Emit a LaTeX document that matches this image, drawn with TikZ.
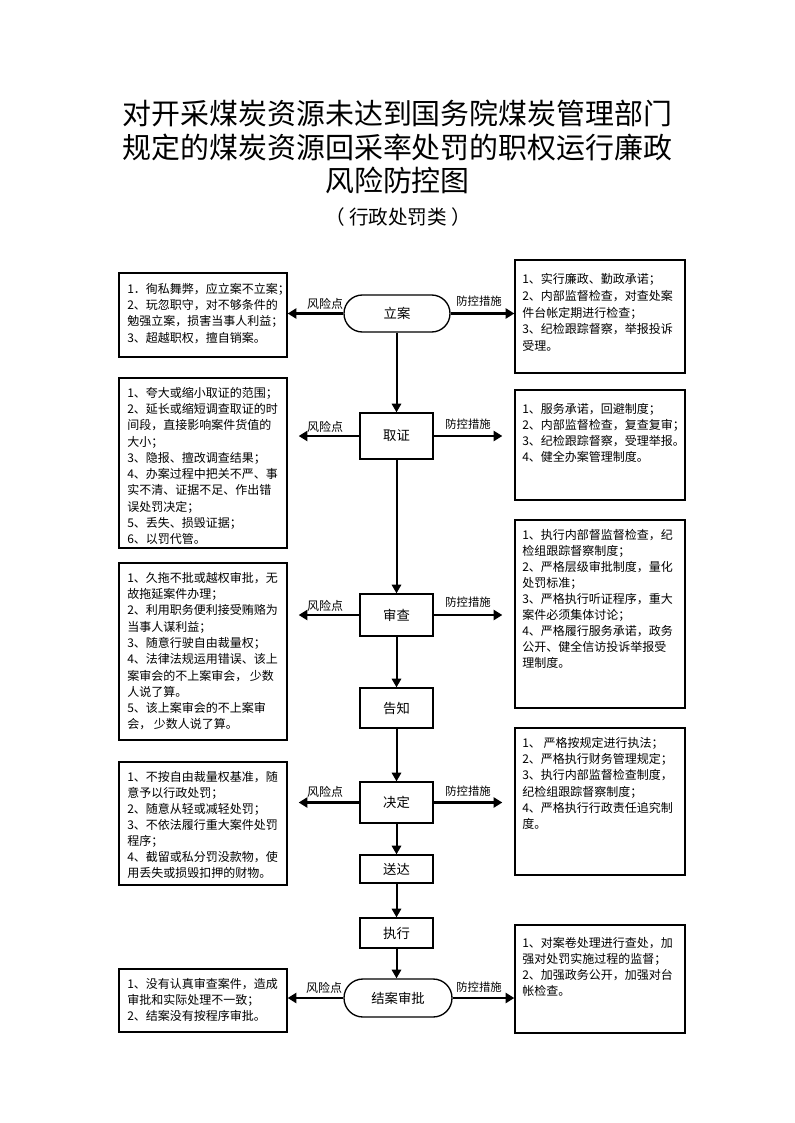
\documentclass[tikz,border=0pt]{standalone}
\usepackage{fontspec}
\newfontfamily\cjk{Noto Sans CJK SC}
\usetikzlibrary{arrows.meta,calc}
\begin{document}
\begin{tikzpicture}[x=0.75pt,y=-0.75pt,
  box/.style={draw, line width=1pt, inner sep=0pt},
  cbox/.style={draw, line width=1pt, inner sep=0pt, font=\cjk\fontsize{10pt}{12pt}\selectfont},
  txt/.style={font=\cjk\fontsize{9pt}{#1}\selectfont, align=left, inner sep=0pt, anchor=north west},
  lbl/.style={font=\cjk\fontsize{9pt}{11pt}\selectfont, inner sep=0pt},
  lbltwo/.style={font=\cjk\fontsize{8.5pt}{11pt}\selectfont, inner sep=0pt},
  titl/.style={font=\cjk\fontsize{21.7pt}{26pt}\selectfont, inner sep=0pt},
  harrow/.style={line width=2.2pt, -{Triangle[length=6.5pt,width=7.5pt]}},
  varrow/.style={line width=1.5pt, -{Triangle[length=6.5pt,width=7pt]}}]
\fill[white] (0,0) rectangle (794,1123);
\useasboundingbox (0,0) rectangle (794,1123);

% title
\node[titl] (ti1) at (397.5,113) {对开采煤炭资源未达到国务院煤炭管理部门};
\node[titl] (ti2) at (397.5,147) {规定的煤炭资源回采率处罚的职权运行廉政};
\node[titl] (ti3) at (397.5,180) {风险防控图};
\node[font=\cjk\fontsize{14.7pt}{16pt}\selectfont, inner sep=0pt] (ti4) at (398,217) {（ 行政处罚类 ）};

% left boxes
\node[box, minimum width=126pt, minimum height=63pt] (L1) at (203,315) {};
\node[box, minimum width=126pt, minimum height=127.5pt] (L2) at (203,463) {};
\node[box, minimum width=126pt, minimum height=132.75pt] (L3) at (203,651.5) {};
\node[box, minimum width=126pt, minimum height=92.25pt] (L4) at (203,823.5) {};
\node[box, minimum width=126pt, minimum height=47.25pt] (L5) at (203,1000.5) {};
% right boxes
\node[box, minimum width=127.5pt, minimum height=84.75pt] (R1) at (600,316.5) {};
\node[box, minimum width=127.5pt, minimum height=82.5pt] (R2) at (600,445) {};
\node[box, minimum width=127.5pt, minimum height=141pt] (R3) at (600,614) {};
\node[box, minimum width=127.5pt, minimum height=110.25pt] (R4) at (600,801.5) {};
\node[box, minimum width=127.5pt, minimum height=81pt] (R5) at (600,979) {};

% texts
\node[txt={12.2pt}] (L1t) at (127,283) {1．徇私舞弊，应立案不立案；\\2、玩忽职守，对不够条件的\\勉强立案，损害当事人利益；\\3、超越职权，擅自销案。};
\node[txt={12.6pt}] (R1t) at (522,273) {1、实行廉政、勤政承诺；\\2、内部监督检查，对查处案\\件台帐定期进行检查；\\3、纪检跟踪督察，举报投诉\\受理。};
\node[txt={12.2pt}] (L2t) at (127,387) {1、夸大或缩小取证的范围；\\2、延长或缩短调查取证的时\\间段，直接影响案件货值的\\大小；\\3、隐报、擅改调查结果；\\4、办案过程中把关不严、事\\实不清、证据不足、作出错\\误处罚决定；\\5、丢失、损毁证据；\\6、以罚代管。};
\node[txt={12pt}] (R2t) at (522,403) {1、服务承诺，回避制度；\\2、内部监督检查，复查复审；\\3、纪检跟踪督察，受理举报。\\4、健全办案管理制度。};
\node[txt={12.2pt}] (L3t) at (127,572) {1、久拖不批或越权审批，无\\故拖延案件办理；\\2、利用职务便利接受贿赂为\\当事人谋利益；\\3、随意行驶自由裁量权；\\4、法律法规运用错误、该上\\案审会的不上案审会， 少数\\人说了算。\\5、该上案审会的不上案审\\会， 少数人说了算。};
\node[txt={12pt}] (R3t) at (522,529) {1、执行内部督监督检查，纪\\检组跟踪督察制度；\\2、严格层级审批制度，量化\\处罚标准；\\3、严格执行听证程序，重大\\案件必须集体讨论；\\4、严格履行服务承诺，政务\\公开、健全信访投诉举报受\\理制度。};
\node[txt={12pt}] (L4t) at (127,771) {1、不按自由裁量权基准，随\\意予以行政处罚；\\2、随意从轻或减轻处罚；\\3、不依法履行重大案件处罚\\程序；\\4、截留或私分罚没款物，使\\用丢失或损毁扣押的财物。};
\node[txt={12.15pt}] (R4t) at (522,737) {1、 严格按规定进行执法；\\2、严格执行财务管理规定；\\3、执行内部监督检查制度，\\纪检组跟踪督察制度；\\4、严格执行行政责任追究制\\度。};
\node[txt={12pt}] (L5t) at (127,978) {1、没有认真审查案件，造成\\审批和实际处理不一致；\\2、结案没有按程序审批。};
\node[txt={12pt}] (R5t) at (522,937) {1、对案卷处理进行查处，加\\强对处罚实施过程的监督；\\2、加强政务公开，加强对台\\帐检查。};

% centre column
\node[cbox, rounded corners=13.8pt, minimum width=79.5pt, minimum height=27.75pt] (la) at (397,313.5) {立案};
\node[cbox, minimum width=54.75pt, minimum height=34.5pt] (qz) at (396.5,436) {取证};
\node[cbox, minimum width=54.75pt, minimum height=31.5pt] (sc) at (396.5,615) {审查};
\node[cbox, minimum width=54.75pt, minimum height=30pt] (gz) at (396.5,708) {告知};
\node[cbox, minimum width=54.75pt, minimum height=30.75pt] (jd) at (396.5,802.5) {决定};
\node[cbox, minimum width=54.75pt, minimum height=21pt] (sd) at (396.5,869) {送达};
\node[cbox, minimum width=54.75pt, minimum height=22.5pt] (zx) at (396.5,933) {执行};
\node[cbox, rounded corners=14.2pt, minimum width=81pt, minimum height=28.5pt] (ja) at (398,998) {结案审批};

% vertical arrows
\draw[varrow] (la.south -| qz.south) -- (qz.north);
\draw[varrow] (qz.south) -- (sc.north);
\draw[varrow] (sc.south) -- (gz.north);
\draw[varrow] (gz.south) -- (jd.north);
\draw[varrow] (jd.south) -- (sd.north);
\draw[varrow] (sd.south) -- (zx.north);
\draw[varrow] (zx.south) -- (zx.south |- ja.north);

% horizontal arrows
\draw[harrow] (la.west) -- (la.west -| L1.east);
\draw[harrow] (la.east) -- (la.east -| R1.west);
\draw[harrow] (qz.west) -- ($(qz.west -| L2.east)+(11,0)$);
\draw[harrow] (qz.east) -- ($(qz.east -| R2.west)+(-12,0)$);
\draw[harrow] (sc.west) -- ($(sc.west -| L3.east)+(11,0)$);
\draw[harrow] (sc.east) -- ($(sc.east -| R3.west)+(-12,0)$);
\draw[harrow] (jd.west) -- ($(jd.west -| L4.east)+(11,0)$);
\draw[harrow] (jd.east) -- ($(jd.east -| R4.west)+(-12,0)$);
\draw[harrow] (ja.west) -- (ja.west -| L5.east);
\draw[harrow] (ja.east) -- (ja.east -| R5.west);

% labels
\node[lbl] (k1) at (325,304) {风险点};
\node[lbltwo] (m1) at (479,301) {防控措施};
\node[lbl] (k2) at (325,427) {风险点};
\node[lbltwo] (m2) at (468,424) {防控措施};
\node[lbl] (k3) at (325,606) {风险点};
\node[lbltwo] (m3) at (468,602) {防控措施};
\node[lbl] (k4) at (325,792) {风险点};
\node[lbltwo] (m4) at (468,791) {防控措施};
\node[lbl] (k5) at (324,988) {风险点};
\node[lbltwo] (m5) at (479,987) {防控措施};
\end{tikzpicture}
\end{document}
